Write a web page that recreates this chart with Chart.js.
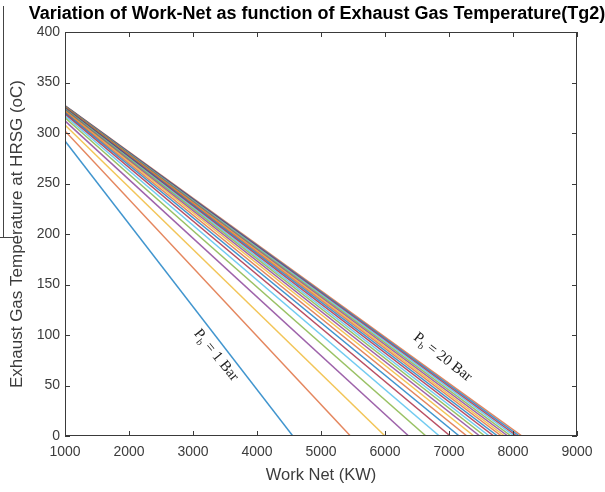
<!DOCTYPE html>
<html>
<head>
<meta charset="utf-8">
<script src="https://cdn.jsdelivr.net/npm/chart.js@4.4.0/dist/chart.umd.min.js"></script>
<style>
  html, body { margin: 0; padding: 0; background: #fff; }
  #wrap { width: 605px; height: 492px; }
</style>
</head>
<body>
<div id="wrap"><canvas id="grafico"></canvas></div>
<script>
// Datos: cada curva va de (1000, T inicial) a (W final, 0)
const workStart = 1000;
const tempStart = [292, 302, 308, 312, 315, 317, 318.7, 320, 321, 322, 322.8, 323.4, 324,
                   324.5, 324.9, 325.3, 325.6, 325.9, 326.2, 326.4, 326.6, 326.8, 327];
const workEnd = [4560, 5460, 6000, 6370, 6640, 6850, 7020, 7160, 7280, 7390, 7480, 7560, 7630,
                 7700, 7760, 7820, 7870, 7920, 7970, 8020, 8060, 8100, 8140];
const xTicks = [1000, 2000, 3000, 4000, 5000, 6000, 7000, 8000, 9000];
const yTicks = [0, 50, 100, 150, 200, 250, 300, 350, 400];

// Orden de colores por defecto de MATLAB (algo atenuados como en la imagen)
const colores = ['rgba(0,114,189,0.75)', 'rgba(217,83,25,0.7)', 'rgba(237,177,32,0.75)',
                 'rgba(126,47,142,0.75)', 'rgba(119,172,48,0.75)', 'rgba(77,190,238,0.8)',
                 'rgba(162,20,47,0.75)'];

const datasets = tempStart.map((t, i) => ({
    label: 'serie ' + (i + 1),
    data: [{ x: workStart, y: t }, { x: workEnd[i], y: 0 }],
    borderColor: colores[i % colores.length],
    borderWidth: 1.5,
    pointRadius: 0,
    fill: false
}));

// Etiquetas de texto sobre las curvas
const etiquetas = [
    { x: 3360, y: 80, ang: 51, num: '1' },
    { x: 6900, y: 78, ang: 38, num: '20' }
];

const decoracion = {
    id: 'decoracion',
    afterDraw(chart) {
        const { ctx, chartArea: a, scales: { x, y } } = chart;
        ctx.save();
        ctx.strokeStyle = '#3a3a3a';
        ctx.lineWidth = 1;
        const linea = (x1, y1, x2, y2) => { ctx.beginPath(); ctx.moveTo(x1, y1); ctx.lineTo(x2, y2); ctx.stroke(); };

        // Marco y marcas hacia adentro
        ctx.strokeRect(Math.round(a.left) + 0.5, Math.round(a.top) + 0.5, Math.round(a.width) - 1, Math.round(a.height) - 1);
        const len = 5;
        x.ticks.forEach(t => {
            const px = Math.round(x.getPixelForValue(t.value)) + 0.5;
            linea(px, a.bottom, px, a.bottom - len);
            linea(px, a.top, px, a.top + len);
        });
        y.ticks.forEach(t => {
            const py = Math.round(y.getPixelForValue(t.value)) + 0.5;
            linea(a.left, py, a.left + len, py);
            linea(a.right, py, a.right - len, py);
        });

        // Titulo
        ctx.fillStyle = '#000';
        ctx.font = 'bold 18px "Liberation Sans", Arial, sans-serif';
        ctx.textAlign = 'center';
        ctx.textBaseline = 'alphabetic';
        ctx.fillText('Variation of Work-Net as function of Exhaust Gas Temperature(Tg2)', 317, 19);

        // Etiquetas P_b = n Bar
        etiquetas.forEach(e => {
            const px = x.getPixelForValue(e.x);
            const py = y.getPixelForValue(e.y);
            ctx.save();
            ctx.translate(px, py);
            ctx.rotate(e.ang * Math.PI / 180);
            ctx.fillStyle = '#222';
            ctx.textBaseline = 'middle';
            ctx.textAlign = 'left';
            const fuente = '15px "Liberation Serif", "Times New Roman", serif';
            const sub = '10px "Liberation Serif", "Times New Roman", serif';
            ctx.font = fuente;
            const wP = ctx.measureText('P').width;
            ctx.font = sub;
            const wb = ctx.measureText('b').width;
            ctx.font = fuente;
            const resto = ' = ' + e.num + ' Bar';
            const total = wP + wb + ctx.measureText(resto).width;
            let cx = -total / 2;
            ctx.fillText('P', cx, 0);
            cx += wP;
            ctx.font = sub;
            ctx.fillText('b', cx, 5);
            cx += wb;
            ctx.font = fuente;
            ctx.fillText(resto, cx, 0);
            ctx.restore();
        });

        // Lineas sueltas del recorte original
        ctx.strokeStyle = '#444';
        linea(3.5, 6, 3.5, 237);
        linea(0, 237.5, 15, 237.5);
        ctx.restore();
    }
};

const colorTexto = '#3c3c3c';
const fuenteEjes = '"Liberation Sans", Arial, sans-serif';

new Chart(document.getElementById('grafico'), {
    type: 'line',
    data: { datasets },
    options: {
        responsive: true,
        maintainAspectRatio: false,
        animation: false,
        layout: { padding: { top: 32, right: 28, left: 0, bottom: 0 } },
        plugins: { legend: { display: false }, tooltip: { enabled: false } },
        scales: {
            x: {
                type: 'linear',
                min: 1000,
                max: 9000,
                afterBuildTicks: s => { s.ticks = xTicks.map(v => ({ value: v })); },
                afterFit: s => { s.height = 56; },
                grid: { display: false, drawTicks: false },
                border: { display: false },
                ticks: {
                    color: colorTexto,
                    padding: 8,
                    maxRotation: 0,
                    callback: v => String(v),
                    font: { family: fuenteEjes, size: 14 }
                },
                title: {
                    display: true,
                    text: 'Work Net (KW)',
                    color: colorTexto,
                    padding: { top: 0, bottom: 7 },
                    font: { family: fuenteEjes, size: 16.5 }
                }
            },
            y: {
                type: 'linear',
                min: 0,
                max: 400,
                afterBuildTicks: s => { s.ticks = yTicks.map(v => ({ value: v })); },
                afterFit: s => { s.width = 65; },
                grid: { display: false, drawTicks: false },
                border: { display: false },
                ticks: {
                    color: colorTexto,
                    padding: 5,
                    callback: v => String(v),
                    font: { family: fuenteEjes, size: 14 }
                },
                title: {
                    display: true,
                    text: 'Exhaust Gas Temperature at HRSG (oC)',
                    color: colorTexto,
                    padding: { top: 7, bottom: 0 },
                    font: { family: fuenteEjes, size: 17 }
                }
            }
        }
    },
    plugins: [decoracion]
});
</script>
</body>
</html>
